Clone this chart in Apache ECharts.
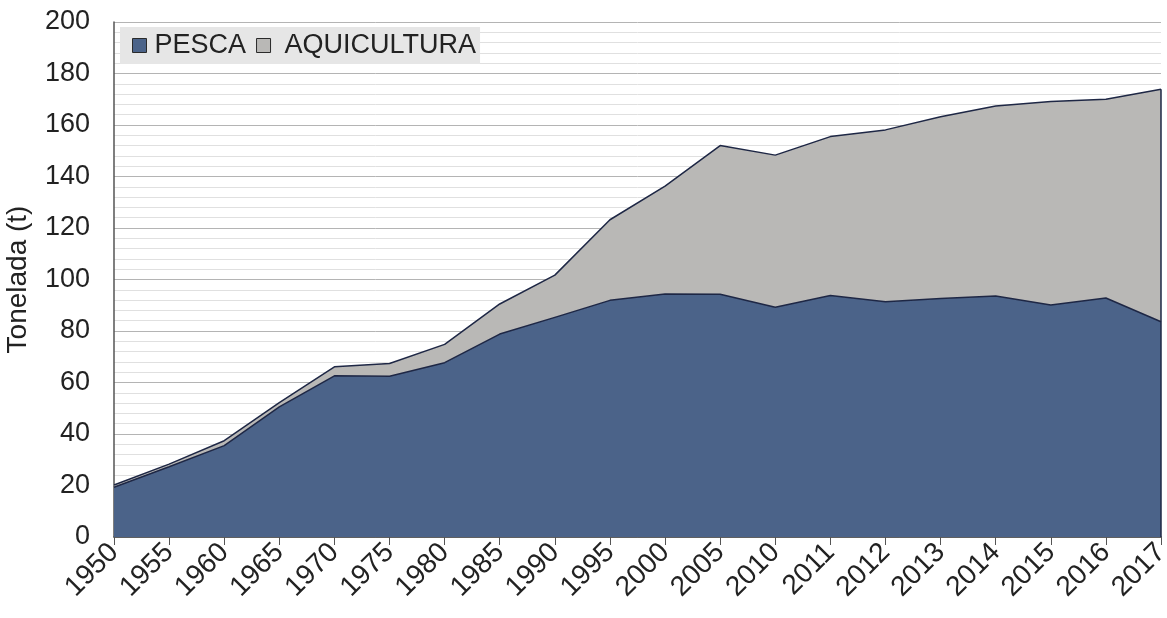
<!DOCTYPE html>
<html>
<head>
<meta charset="utf-8">
<script src="https://cdn.jsdelivr.net/npm/echarts@6/dist/echarts.min.js"></script>
<style>
html,body{margin:0;padding:0;background:#fff;}
#chart{width:1167px;height:618px;}
</style>
</head>
<body>
<div id="chart"></div>
<script>
const years = ['1950','1955','1960','1965','1970','1975','1980','1985','1990','1995','2000','2005','2010','2011','2012','2013','2014','2015','2016','2017'];
const pesca = [19.3, 27.3, 35.5, 50.5, 62.6, 62.4, 67.7, 78.8, 85.3, 91.9, 94.4, 94.3, 89.2, 93.8, 91.4, 92.6, 93.6, 90.1, 92.8, 83.6];
const aquicultura = [0.9, 1.0, 1.9, 1.7, 3.5, 5.0, 7.1, 11.7, 16.4, 31.3, 41.9, 57.7, 59.1, 61.7, 66.7, 70.6, 73.8, 79.0, 77.2, 90.3];
const yTicks = {min: 0, max: 200, interval: 20};
const seriesNames = ['PESCA', 'AQUICULTURA'];

const lastIdx = years.length - 1;
const lastTotal = pesca[lastIdx] + aquicultura[lastIdx];

const chart = echarts.init(document.getElementById('chart'));
const font = 'Liberation Sans, Arial, sans-serif';
chart.setOption({
  animation: false,
  backgroundColor: '#ffffff',
  grid: {left: 114, right: 6, top: 22, bottom: 81, containLabel: false, outerBoundsMode: 'none'},
  legend: {
    left: 120, top: 27,
    data: [
      {name: seriesNames[0], textStyle: {padding: [0, 0, 0, 3]}},
      {name: seriesNames[1], textStyle: {padding: [0, 0, 0, 9]}}
    ],
    backgroundColor: '#e6e6e6',
    padding: [5, 4, 5, 12],
    itemGap: 10,
    itemWidth: 14, itemHeight: 14,
    icon: 'rect',
    itemStyle: {borderColor: '#2a2a2a', borderWidth: 1},
    textStyle: {fontFamily: font, fontSize: 27, color: '#222'}
  },
  xAxis: {
    type: 'category',
    data: years,
    boundaryGap: false,
    axisLine: {lineStyle: {color: '#444', width: 1.5}},
    axisTick: {show: true, length: 8, lineStyle: {color: '#555'}},
    axisLabel: {rotate: 45, fontFamily: font, fontSize: 28, color: '#222', margin: 11, interval: 0},
    splitLine: {show: false}
  },
  yAxis: {
    type: 'value',
    min: yTicks.min, max: yTicks.max, interval: yTicks.interval,
    name: 'Tonelada (t)',
    nameLocation: 'middle',
    nameGap: 82,
    nameTextStyle: {fontFamily: font, fontSize: 28, color: '#222'},
    axisLine: {show: true, lineStyle: {color: '#555', width: 1.5}},
    axisTick: {show: false},
    axisLabel: {fontFamily: font, fontSize: 27, color: '#222', margin: 24},
    splitLine: {show: true, lineStyle: {color: '#b4b4b4', width: 1}},
    minorTick: {show: false, splitNumber: 5},
    minorSplitLine: {show: true, lineStyle: {color: '#e0e0e0', width: 1}}
  },
  series: [
    {
      name: seriesNames[0], type: 'line', stack: 'total', data: pesca,
      showSymbol: false, symbol: 'none',
      itemStyle: {color: '#4b6389'},
      lineStyle: {color: '#1e2745', width: 1.5},
      areaStyle: {color: '#4b6389', opacity: 1}
    },
    {
      name: seriesNames[1], type: 'line', stack: 'total', data: aquicultura,
      showSymbol: false, symbol: 'none',
      itemStyle: {color: '#b9b8b6'},
      lineStyle: {color: '#1e2745', width: 1.5},
      areaStyle: {color: '#b9b8b6', opacity: 1},
      markLine: {
        silent: true, symbol: 'none', label: {show: false},
        lineStyle: {color: '#1e2745', width: 1.5, type: 'solid'},
        data: [[{coord: [years[lastIdx], 0]}, {coord: [years[lastIdx], lastTotal]}]]
      }
    }
  ]
});
</script>
</body>
</html>
